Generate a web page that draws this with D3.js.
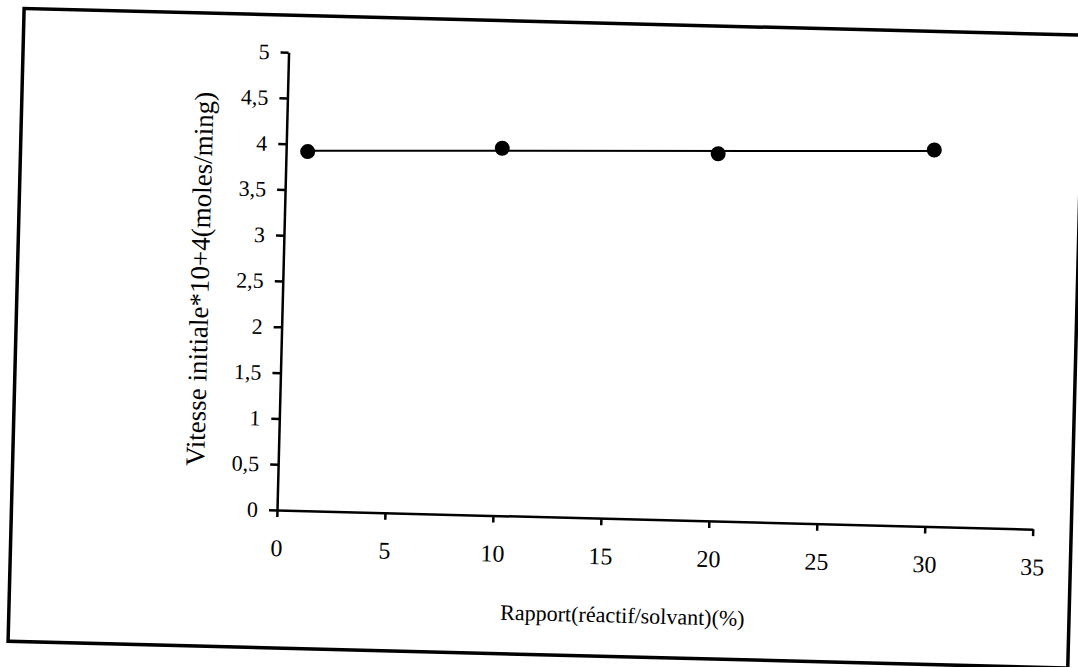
<!DOCTYPE html>
<html>
<head>
<meta charset="utf-8">
<script src="https://cdn.jsdelivr.net/npm/d3@7"></script>
<style>
  body { margin: 0; background: #fff; }
  svg { display: block; }
  .axis path, .axis line { stroke: #000; stroke-width: 2.5; }
  .axis text { font-family: "Liberation Serif", serif; fill: #000; }
</style>
</head>
<body>
<div id="chart"></div>
<script>
// donnees
const rapports = [1, 10, 20, 30];
const vitesses = [3.92, 4.01, 4.01, 4.11];
const xTicks = [0, 5, 10, 15, 20, 25, 30, 35];
const yTicks = [0, 0.5, 1, 1.5, 2, 2.5, 3, 3.5, 4, 4.5, 5];

const width = 1078;
const height = 667;
const origin = { x: 277, y: 510 };

const svg = d3.select('#chart')
    .append('svg')
    .attr('width', width)
    .attr('height', height);

// la page scannee est legerement tournee
const g = svg.append('g')
    .attr('transform', `rotate(1.45, ${origin.x}, ${origin.y})`);

// cadre
g.append('rect')
    .attr('x', 11.5)
    .attr('y', 15)
    .attr('width', 1060)
    .attr('height', 633)
    .attr('fill', 'none')
    .attr('stroke', '#000')
    .attr('stroke-width', 3.5);

const x = d3.scaleLinear()
    .domain([0, 35])
    .range([origin.x, origin.x + 756]);

const y = d3.scaleLinear()
    .domain([0, 5])
    .range([origin.y, origin.y - 458]);

const fr = d3.formatLocale({ decimal: ',', thousands: ' ', grouping: [3], currency: ['', '€'] });
const fmt = fr.format('~g');

// axe X
const xAxis = g.append('g')
    .attr('class', 'axis')
    .attr('transform', `translate(0, ${origin.y})`)
    .call(d3.axisBottom(x).tickValues(xTicks).tickFormat(fmt).tickSize(7).tickSizeOuter(0).tickPadding(22));
xAxis.selectAll('text').style('font-size', '24px');

// axe Y
const yAxis = g.append('g')
    .attr('class', 'axis')
    .attr('transform', `translate(${origin.x}, 0)`)
    .call(d3.axisLeft(y).tickValues(yTicks).tickFormat(fmt).tickSize(8).tickSizeOuter(0).tickPadding(11));
yAxis.selectAll('text').style('font-size', '22px');

// titres des axes
g.append('text')
    .attr('x', 625)
    .attr('y', 614)
    .attr('text-anchor', 'middle')
    .style('font-family', '"Liberation Serif", serif')
    .style('font-size', '22px')
    .text('Rapport(réactif/solvant)(%)');

g.append('text')
    .attr('transform', 'translate(203, 281) rotate(-90)')
    .attr('text-anchor', 'middle')
    .style('font-family', '"Liberation Serif", serif')
    .style('font-size', '27px')
    .text('Vitesse initiale*10+4(moles/ming)');

// droite de tendance (moindres carres)
const pts = rapports.map((r, i) => [r, vitesses[i]]);
const mx = d3.mean(rapports);
const my = d3.mean(vitesses);
const pente = d3.sum(pts, d => (d[0] - mx) * (d[1] - my)) / d3.sum(pts, d => (d[0] - mx) ** 2);
const tendance = d3.extent(rapports).map(r => [r, my + pente * (r - mx)]);

g.append('path')
    .datum(tendance)
    .attr('fill', 'none')
    .attr('stroke', '#000')
    .attr('stroke-width', 2)
    .attr('d', d3.line().x(d => x(d[0])).y(d => y(d[1])));

// points
g.selectAll('.pt')
    .data(pts)
    .enter().append('circle')
    .attr('class', 'pt')
    .attr('cx', d => x(d[0]))
    .attr('cy', d => y(d[1]))
    .attr('r', 7.5)
    .attr('fill', '#000');
</script>
</body>
</html>
